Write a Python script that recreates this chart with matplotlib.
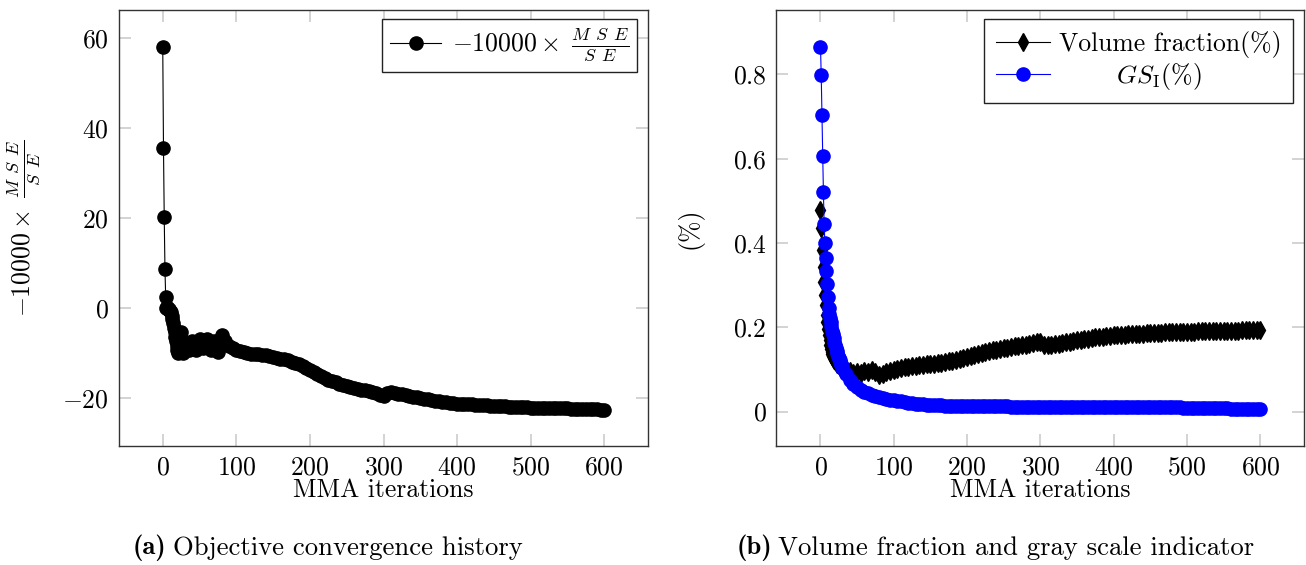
import matplotlib
matplotlib.use("Agg")
import matplotlib.pyplot as plt
from matplotlib.ticker import FuncFormatter

iterations = list(range(0, 31)) + list(range(35, 601, 5))

objective = [
    58.0, 35.5, 20.2, 8.6, 2.3, 0.0, 0.2, -0.3, -0.5, -0.2, -0.8,
    -1.0, -1.8, -2.5, -3.5, -4.5, -5.5, -6.5, -7.5, -8.5, -9.5,
    -10.0, -9.0, -8.0, -7.0, -5.5, -7.5, -9.5, -10.0, -9.0, -8.0,
    -9.5, -7.5, -9.5, -7.0, -9.0, -7.0, -9.5, -7.5, -9.8, -6.0, -7.5, -8.5, -9.0, -9.3,
    -9.6, -9.8, -10.0, -10.2, -10.3, -10.4, -10.5, -10.6, -10.8, -11.0,
    -11.1, -11.3, -11.5, -11.7, -12.0, -12.3, -12.6, -13.0, -13.4, -13.8,
    -14.2, -14.7, -15.1, -15.6, -16.0, -16.3, -16.6, -16.9, -17.2, -17.4,
    -17.6, -17.8, -18.0, -18.2, -18.4, -18.6, -18.8, -19.0, -19.3, -19.6,
    -19.0, -18.8, -18.9, -19.1, -19.2, -19.4, -19.6, -19.8, -19.9, -20.1,
    -20.2, -20.4, -20.5, -20.7, -20.8, -20.9, -21.0, -21.1, -21.2, -21.3,
    -21.35, -21.4, -21.45, -21.5, -21.55, -21.6, -21.65, -21.7, -21.75, -21.8,
    -21.85, -21.9, -21.95, -22.0, -22.0, -22.0, -22.05, -22.1, -22.15, -22.2,
    -22.2, -22.2, -22.25, -22.3, -22.3, -22.3, -22.35, -22.4, -22.4, -22.4,
    -22.45, -22.5, -22.5, -22.5, -22.55, -22.6, -22.6, -22.6, -22.65, -22.7,
]

volume_fraction = [
    0.479, 0.435, 0.384, 0.344, 0.308, 0.277, 0.253, 0.230, 0.212, 0.196, 0.182,
    0.170, 0.158, 0.148, 0.141, 0.136, 0.132, 0.128, 0.125, 0.122, 0.120,
    0.118, 0.116, 0.114, 0.112, 0.110, 0.108, 0.106, 0.104, 0.102, 0.101,
    0.099, 0.097, 0.092, 0.095, 0.091, 0.097, 0.093, 0.098, 0.094, 0.087, 0.090, 0.093, 0.096, 0.099,
    0.101, 0.103, 0.105, 0.106, 0.108, 0.109, 0.110, 0.111, 0.112, 0.113,
    0.114, 0.115, 0.116, 0.118, 0.119, 0.121, 0.123, 0.125, 0.127, 0.130,
    0.132, 0.135, 0.137, 0.140, 0.142, 0.144, 0.146, 0.147, 0.149, 0.150,
    0.152, 0.153, 0.155, 0.156, 0.158, 0.159, 0.160, 0.162, 0.164, 0.166,
    0.158, 0.157, 0.158, 0.160, 0.161, 0.163, 0.164, 0.166, 0.167, 0.169,
    0.170, 0.172, 0.173, 0.175, 0.176, 0.177, 0.178, 0.179, 0.180, 0.181,
    0.1815, 0.182, 0.1825, 0.183, 0.1835, 0.184, 0.1845, 0.185, 0.1855, 0.186,
    0.1865, 0.187, 0.1875, 0.188, 0.1885, 0.189, 0.189, 0.189, 0.1895, 0.190,
    0.190, 0.190, 0.1905, 0.191, 0.191, 0.191, 0.191, 0.191, 0.1915, 0.192,
    0.192, 0.192, 0.192, 0.192, 0.1925, 0.193, 0.193, 0.193, 0.193, 0.193,
]

gray_scale = [
    0.866, 0.799, 0.704, 0.607, 0.520, 0.445, 0.400, 0.365, 0.334, 0.302, 0.273,
    0.245, 0.232, 0.222, 0.212, 0.202, 0.192, 0.183, 0.174, 0.166, 0.158,
    0.151, 0.144, 0.138, 0.132, 0.127, 0.122, 0.117, 0.112, 0.108, 0.104,
    0.088, 0.076, 0.066, 0.058, 0.052, 0.047, 0.043, 0.040, 0.037, 0.034, 0.032, 0.030, 0.028, 0.027,
    0.025, 0.024, 0.022, 0.021, 0.020, 0.019, 0.018, 0.017, 0.0165, 0.016,
    0.0155, 0.015, 0.0145, 0.014, 0.014, 0.014, 0.0135, 0.0135, 0.013, 0.013,
    0.0135, 0.014, 0.014, 0.014, 0.0135, 0.013, 0.013, 0.013, 0.013, 0.013,
    0.0125, 0.012, 0.012, 0.012, 0.012, 0.012, 0.012, 0.012, 0.012, 0.012,
    0.012, 0.012, 0.012, 0.012, 0.012, 0.012, 0.012, 0.012, 0.0115, 0.011,
    0.011, 0.011, 0.011, 0.011, 0.011, 0.011, 0.011, 0.011, 0.011, 0.011,
    0.011, 0.011, 0.011, 0.011, 0.011, 0.011, 0.011, 0.011, 0.011, 0.011,
    0.0105, 0.010, 0.010, 0.010, 0.010, 0.010, 0.010, 0.010, 0.0095, 0.009,
    0.009, 0.009, 0.009, 0.009, 0.0085, 0.008, 0.008, 0.008, 0.008, 0.008,
    0.0075, 0.007, 0.007, 0.007, 0.007, 0.007, 0.0065, 0.006, 0.006, 0.006,
]

x_ticks = [0, 100, 200, 300, 400, 500, 600]
obj_ticks = [-20, 0, 20, 40, 60]
pct_ticks = [0, 0.2, 0.4, 0.6, 0.8]

OBJ_LABEL = r"$-10000\times\;\frac{M\;\,S\;\,E}{S\;\,E}$"
FS = 18.5

plt.rcParams["font.family"] = "cmr10"
plt.rcParams["mathtext.fontset"] = "cm"
plt.rcParams["axes.formatter.use_mathtext"] = True
plt.rcParams["font.size"] = FS

W, H = 1306, 565


def style_axes(ax, xlim, ylim, yticks):
    ax.set_xlim(*xlim)
    ax.set_ylim(*ylim)
    ax.set_xticks(x_ticks)
    ax.set_yticks(yticks)
    fmt = FuncFormatter(lambda v, p: f"${v:g}$")
    ax.xaxis.set_major_formatter(fmt)
    ax.yaxis.set_major_formatter(fmt)
    ax.tick_params(direction="in", length=8.5, width=1.1, color="#c8c8c8",
                   top=True, right=True, labelsize=FS, pad=7)
    for spine in ax.spines.values():
        spine.set_color("#333333")
        spine.set_linewidth(1.0)
    ax.set_xlabel("MMA iterations", fontsize=FS)
    ax.xaxis.set_label_coords(0.5, -0.074)


def legend_frame(leg):
    frame = leg.get_frame()
    frame.set_edgecolor("#222222")
    frame.set_linewidth(1.0)
    frame.set_boxstyle("square", pad=0)


fig = plt.figure(figsize=(W / 100, H / 100), dpi=100)

# (a) objective history
ax1 = fig.add_axes([118.6 / W, 1 - 445.7 / H, 529.8 / W, 435.7 / H])
ax1.plot(iterations, objective, color="black", lw=0.8, marker="o", ms=9.5,
         mec="black", mfc="black", label=OBJ_LABEL)
style_axes(ax1, (-60, 660), (-30.67, 66.15), obj_ticks)
ax1.set_ylabel(OBJ_LABEL, fontsize=FS)
ax1.yaxis.set_label_coords(-0.143, 0.5)
leg1 = ax1.legend(loc="upper right", bbox_to_anchor=(0.9785, 0.9787), borderaxespad=0,
                  fancybox=False, framealpha=1, numpoints=1, fontsize=FS,
                  handlelength=2.0, borderpad=0.3, handletextpad=0.4)
legend_frame(leg1)

# (b) volume fraction and gray scale indicator
ax2 = fig.add_axes([776.5 / W, 1 - 445.7 / H, 527.8 / W, 435.7 / H])
ax2.plot(iterations, volume_fraction, color="black", lw=0.8, marker="d", ms=9,
         mec="black", mfc="black", label="Volume fraction(%)")
ax2.plot(iterations, gray_scale, color="blue", lw=0.8, marker="o", ms=9.5,
         mec="blue", mfc="blue", label=r"$\qquad\;\;GS_{\mathrm{I}}(\%)$")
style_axes(ax2, (-60, 660), (-0.081, 0.953), pct_ticks)
ax2.set_ylabel("(%)", fontsize=FS)
ax2.yaxis.set_label_coords(-0.139, 0.5)
leg2 = ax2.legend(loc="upper right", bbox_to_anchor=(0.9784, 0.9787), borderaxespad=0,
                  fancybox=False, framealpha=1, numpoints=1, fontsize=FS,
                  handlelength=2.1, borderpad=0.45, handletextpad=0.35, labelspacing=0.12)
legend_frame(leg2)

# sub-figure captions
CAP_FS = 19.2
cy = 1 - 548 / H
fig.text(133 / W, cy, "(a)", family="cmb10", fontsize=CAP_FS, va="center")
fig.text(173 / W, cy, "Objective convergence history", fontsize=CAP_FS, va="center")
fig.text(737 / W, cy, "(b)", family="cmb10", fontsize=CAP_FS, va="center")
fig.text(778 / W, cy, "Volume fraction and gray scale indicator", fontsize=CAP_FS, va="center")

fig.savefig("out.png", dpi=100)
